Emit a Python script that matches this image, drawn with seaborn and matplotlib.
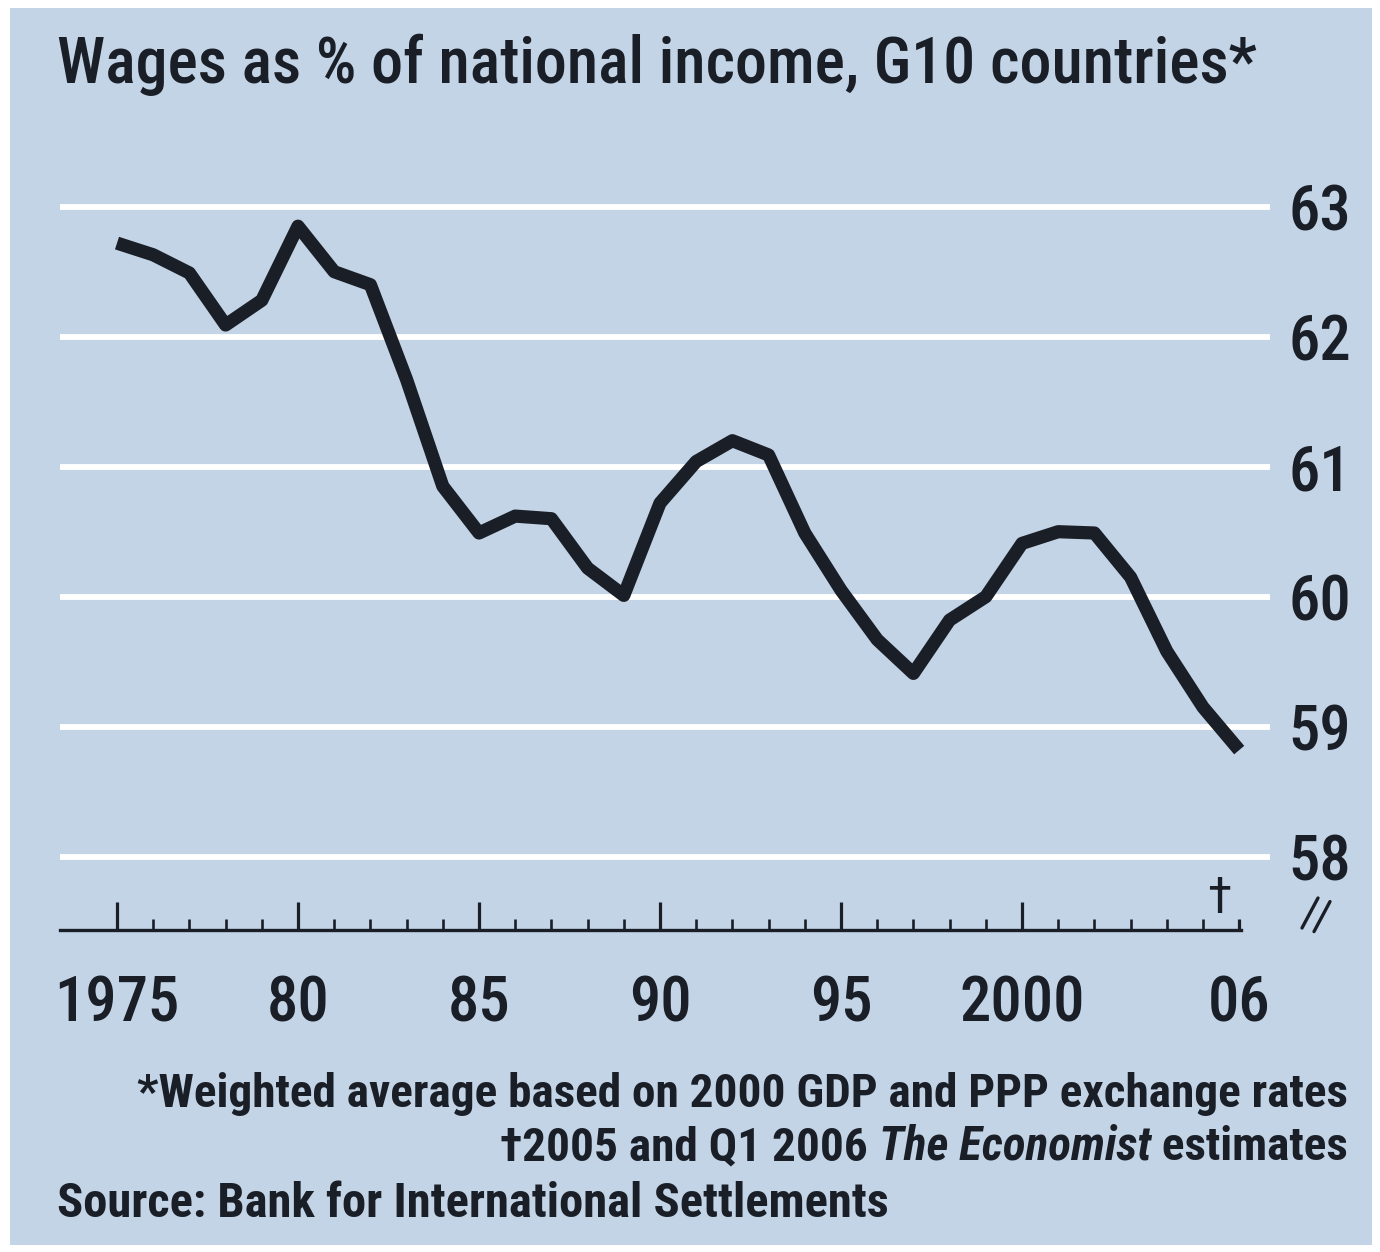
import matplotlib
matplotlib.use("Agg")
import matplotlib.pyplot as plt
import matplotlib.patches as mpatches
import matplotlib.lines as mlines
import numpy as np
import pandas as pd
import seaborn as sns

# Wages as % of national income, G10 countries (annual, 2005-06 estimated)
years = [1975, 1976, 1977, 1978, 1979, 1980, 1981, 1982, 1983, 1984,
         1985, 1986, 1987, 1988, 1989, 1990, 1991, 1992, 1993, 1994,
         1995, 1996, 1997, 1998, 1999, 2000, 2001, 2002, 2003, 2004,
         2005, 2006]
wage_share = [62.72, 62.63, 62.49, 62.09, 62.28, 62.85, 62.50, 62.40, 61.67, 60.85,
              60.49, 60.62, 60.60, 60.22, 60.01, 60.72, 61.04, 61.20, 61.09, 60.49,
              60.05, 59.67, 59.41, 59.82, 60.00, 60.41, 60.50, 60.49, 60.15, 59.58,
              59.15, 58.82]

major_years = [1975, 1980, 1985, 1990, 1995, 2000, 2006]
major_labels = ["1975", "80", "85", "90", "95", "2000", "06"]
y_ticks = [58, 59, 60, 61, 62, 63]
y_labels = ["58", "59", "60", "61", "62", "63"]

title = "Wages as % of national income, G10 countries*"
note1 = "*Weighted average based on 2000 GDP and PPP exchange rates"
note2_a = "\u20202005 and Q1 2006 "
note2_b = "The Economist"
note2_c = " estimates"
source = "Source: Bank for International Settlements"

BG = "#c3d4e6"
INK = "#1a1e27"
FONT = ["Roboto Condensed", "Liberation Sans Narrow", "Roboto", "DejaVu Sans"]

sns.set_theme(style="white")
plt.rcParams["font.family"] = FONT

W, H = 1380, 1252
fig = plt.figure(figsize=(W / 100, H / 100), dpi=100, facecolor="white")

# tinted panel behind everything
fig.patches.append(mpatches.Rectangle((10 / W, 1 - 1245 / H), (1372 - 10) / W, (1245 - 8) / H,
                                      transform=fig.transFigure, facecolor=BG,
                                      edgecolor="none", zorder=-10))

left, right = 60 / W, 1270 / W
bottom, top = 1 - 930 / H, 1 - 190 / H
ax = fig.add_axes([left, bottom, right - left, top - bottom])
ax.set_facecolor("none")
ax.set_zorder(2)

df = pd.DataFrame({"year": years, "share": wage_share})
sns.lineplot(data=df, x="year", y="share", ax=ax, color=INK, linewidth=9.5,
             solid_joinstyle="round", solid_capstyle="butt", zorder=3)

px_per_year = 36.2
x0 = 1975 - (117 - 60) / px_per_year
x1 = 1975 + (1270 - 117) / px_per_year
ax.set_xlim(x0, x1)
ax.set_ylim(63 - (930 - 206.7) / 130.0, 63 + (206.7 - 190) / 130.0)

ax.set_xlabel("")
ax.set_ylabel("")

# white horizontal gridlines
ax.set_yticks(y_ticks)
ax.set_yticklabels(y_labels)
ax.yaxis.grid(True, color="white", linewidth=4.2, zorder=1)
ax.xaxis.grid(False)
ax.set_axisbelow(True)
ax.yaxis.tick_right()
ax.tick_params(axis="y", which="both", length=0, pad=13, labelsize=45, labelcolor=INK)

# x axis: year ticks pointing up from the baseline
ax.set_xticks(major_years)
ax.set_xticklabels(major_labels)
ax.set_xticks(years, minor=True)
ax.tick_params(axis="x", which="major", direction="in", length=20, width=2.3,
               color=INK, pad=32, labelsize=45, labelcolor=INK, bottom=True)
ax.tick_params(axis="x", which="minor", direction="in", length=8, width=1.9,
               color=INK, bottom=True)
ax.xaxis.get_major_ticks()[-1].tick1line.set_markersize(8)
for lab in ax.get_xticklabels() + ax.get_yticklabels():
    lab.set_fontweight("medium")

for s in ["top", "right", "left"]:
    ax.spines[s].set_visible(False)
ax.spines["bottom"].set_visible(True)
ax.spines["bottom"].set_color(INK)
ax.spines["bottom"].set_linewidth(2.4)
ax.spines["bottom"].set_bounds(x0, 2006.05)

# dagger marking the estimated period
ax.annotate("\u2020", xy=(2005.45, ax.get_ylim()[0]), xytext=(0, 5),
            textcoords="offset points", ha="center", va="bottom",
            fontsize=36, color=INK, annotation_clip=False)

# axis break mark next to the value scale
for dx in (0, 12):
    fig.lines.append(mlines.Line2D([(1302 + dx) / W, (1318 + dx) / W],
                                   [1 - (928 + dx * 0.3) / H, 1 - (898 + dx * 0.3) / H],
                                   transform=fig.transFigure, color=INK, linewidth=2.4))

# title and notes
fig.text(57 / W, 1 - 83 / H, title, ha="left", va="baseline", fontsize=46,
         fontweight="medium", color=INK)
fig.text(1348 / W, 1 - 1107 / H, note1, ha="right", va="baseline", fontsize=34,
         fontweight="bold", color=INK)

# second note line with italic publication name, right aligned
renderer = fig.canvas.get_renderer()
t_c = fig.text(1348 / W, 1 - 1160 / H, note2_c, ha="right", va="baseline", fontsize=34,
               fontweight="bold", color=INK)
bb_c = t_c.get_window_extent(renderer)
t_b = fig.text(bb_c.x0 / W, 1 - 1160 / H, note2_b, ha="right", va="baseline", fontsize=34,
               fontweight="bold", fontstyle="italic", color=INK)
bb_b = t_b.get_window_extent(renderer)
fig.text(bb_b.x0 / W, 1 - 1160 / H, note2_a, ha="right", va="baseline", fontsize=34,
         fontweight="bold", color=INK)

fig.text(57 / W, 1 - 1217 / H, source, ha="left", va="baseline", fontsize=35,
         fontweight="bold", color=INK)

fig.savefig("out.png", dpi=100, facecolor=fig.get_facecolor())
